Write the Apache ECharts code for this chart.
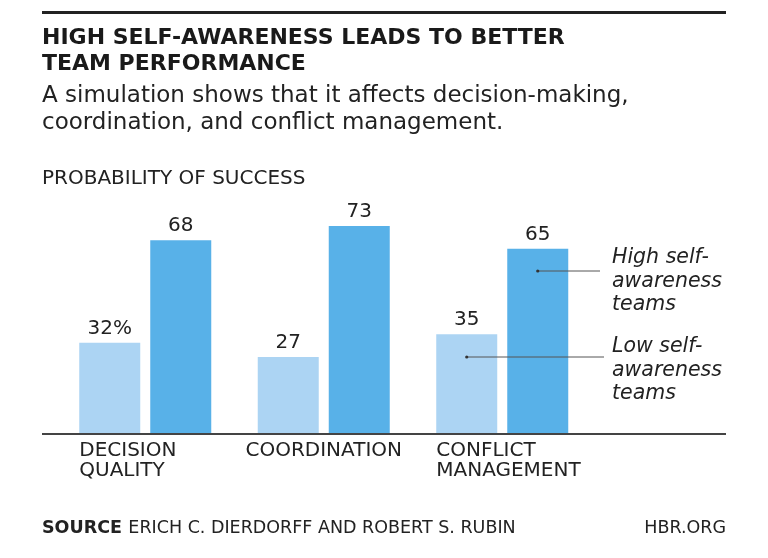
<!DOCTYPE html>
<html>
<head>
<meta charset="utf-8">
<script src="https://cdn.jsdelivr.net/npm/echarts@6/dist/echarts.min.js"></script>
<style>
  html, body { margin: 0; padding: 0; background: #fff; }
  #chart { width: 768px; height: 558px; }
</style>
</head>
<body>
<div id="chart"></div>
<script>
// ── Data ──────────────────────────────────────────────────────────────────────
const categories = ['DECISION\nQUALITY', 'COORDINATION', 'CONFLICT\nMANAGEMENT'];
const lowValues  = [32, 27, 35];
const highValues = [68, 73, 65];
const seriesNames = ['Low self-\nawareness\nteams', 'High self-\nawareness\nteams'];

// ── Styles ────────────────────────────────────────────────────────────────────
const FONT = '"DejaVu Sans", sans-serif';
const LOW_COLOR = '#acd4f3';
const HIGH_COLOR = '#58b1e8';
const INK = '#222';

const chart = echarts.init(document.getElementById('chart'), null, { renderer: 'canvas' });

const valueLabel = {
  show: true,
  position: 'top',
  distance: 4,
  color: INK,
  fontFamily: FONT,
  fontSize: 20,
};

chart.setOption({
  animation: false,
  backgroundColor: '#fff',
  grid: { left: 56, right: 176.5, top: 149, bottom: 124 },
  xAxis: {
    type: 'category',
    data: categories,
    axisLine: { show: false },
    axisTick: { show: false },
    axisLabel: { show: false },
  },
  yAxis: {
    type: 'value',
    min: 0,
    max: 100,
    show: false,
    splitLine: { show: false },
  },
  series: [
    {
      name: seriesNames[0],
      type: 'bar',
      data: lowValues,
      barWidth: 61,
      barGap: '16.4%',
      itemStyle: { color: LOW_COLOR },
      label: {
        ...valueLabel,
        formatter: p => (p.dataIndex === 0 ? p.value + '%' : String(p.value)),
      },
    },
    {
      name: seriesNames[1],
      type: 'bar',
      data: highValues,
      barWidth: 61,
      itemStyle: { color: HIGH_COLOR },
      label: valueLabel,
    },
  ],
});

// ── Decorations: titles, baseline, category labels, annotations ──────────────
const baseY = chart.convertToPixel({ yAxisIndex: 0 }, 0);
const centers = categories.map((c, i) => chart.convertToPixel({ xAxisIndex: 0 }, i));
const last = centers.length - 1;

const text = (x, y, str, style) => ({
  type: 'text',
  x, y,
  z: 100,
  style: Object.assign({ text: str, fill: INK, font: '20px ' + FONT, textVerticalAlign: 'middle' }, style),
});

const graphics = [
  { type: 'rect', shape: { x: 42, y: 11, width: 684, height: 3 }, style: { fill: '#222' } },
  text(42, 38, 'HIGH SELF-AWARENESS LEADS TO BETTER', { font: 'bold 22px ' + FONT, fill: '#1a1a1a' }),
  text(42, 64, 'TEAM PERFORMANCE', { font: 'bold 22px ' + FONT, fill: '#1a1a1a' }),
  text(42, 96, 'A simulation shows that it affects decision-making,', { font: '23px ' + FONT }),
  text(42, 123, 'coordination, and conflict management.', { font: '23px ' + FONT }),
  text(42, 179, 'PROBABILITY OF SUCCESS', { font: '20px ' + FONT }),
  { type: 'rect', z: 100, shape: { x: 42, y: baseY - 1, width: 684, height: 2 }, style: { fill: '#444' } },
  text(42, 528, '', {
    rich: {
      b: { font: 'bold 17.5px ' + FONT, fill: INK },
      r: { font: '17.5px ' + FONT, fill: INK },
    },
    text: '{b|SOURCE} {r|ERICH C. DIERDORFF AND ROBERT S. RUBIN}',
  }),
  text(726, 528, 'HBR.ORG', { font: '17.5px ' + FONT, textAlign: 'right' }),
];

// category labels: left-aligned at the left edge of each bar pair, except the wide middle one
categories.forEach((c, i) => {
  const centred = i === 1;
  c.split('\n').forEach((ln, j) => {
    graphics.push(text(centred ? centers[i] : centers[i] - 66, 451 + j * 19.5, ln, {
      font: '20px ' + FONT,
      textAlign: centred ? 'center' : 'left',
    }));
  });
});

// legend-style annotations pointing into the last pair of bars
const anno = [
  { x: centers[last] + 35.5, y: 271, end: 600, ty: 258, lines: seriesNames[1].split('\n') },
  { x: centers[last] - 35.5, y: 357, end: 604, ty: 347, lines: seriesNames[0].split('\n') },
];
anno.forEach(a => {
  graphics.push({ type: 'line', z: 100, shape: { x1: a.x, y1: a.y, x2: a.end, y2: a.y }, style: { stroke: '#555', lineWidth: 1 } });
  graphics.push({ type: 'circle', z: 100, shape: { cx: a.x, cy: a.y, r: 1.6 }, style: { fill: '#333' } });
  a.lines.forEach((ln, j) => {
    graphics.push(text(612, a.ty + j * 23.5, ln, { font: 'italic 20.5px ' + FONT }));
  });
});

chart.setOption({ graphic: graphics });
</script>
</body>
</html>
